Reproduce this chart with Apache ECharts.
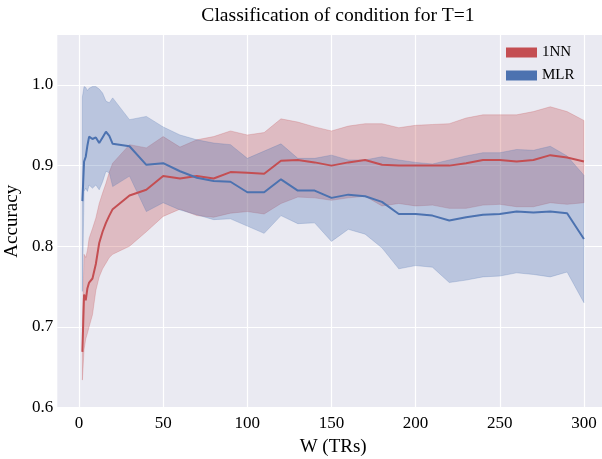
<!DOCTYPE html>
<html>
<head>
<meta charset="utf-8">
<script src="https://cdn.jsdelivr.net/npm/echarts@6/dist/echarts.min.js"></script>
<style>
html,body{margin:0;padding:0;background:#fff;}
#chart{width:602px;height:459px;}
</style>
</head>
<body>
<div id="chart"></div>
<script>
// Window sizes W (TRs)
const W = [2,3,4,5,6,8,10,12,14,16,18,20,30,40,50,60,70,80,90,100,110,120,130,140,150,160,170,180,190,200,210,220,230,240,250,260,270,280,290,300];

// 1NN: mean accuracy and band bounds
const nnMean = [0.669,0.740,0.733,0.748,0.755,0.760,0.778,0.804,0.818,0.829,0.838,0.846,0.863,0.870,0.887,0.884,0.887,0.884,0.892,0.891,0.890,0.906,0.907,0.904,0.900,0.904,0.907,0.901,0.900,0.900,0.900,0.900,0.903,0.907,0.907,0.905,0.907,0.913,0.910,0.905];
const nnLow  = [0.634,0.672,0.685,0.692,0.700,0.715,0.745,0.762,0.772,0.779,0.786,0.790,0.800,0.818,0.837,0.846,0.838,0.836,0.841,0.843,0.840,0.853,0.861,0.860,0.857,0.860,0.862,0.850,0.853,0.850,0.851,0.847,0.847,0.851,0.852,0.849,0.849,0.854,0.852,0.854];
const nnHigh = [0.705,0.790,0.786,0.795,0.810,0.822,0.835,0.853,0.866,0.878,0.892,0.903,0.926,0.922,0.936,0.923,0.932,0.936,0.943,0.938,0.941,0.958,0.954,0.948,0.943,0.949,0.952,0.952,0.947,0.950,0.951,0.952,0.959,0.963,0.963,0.963,0.967,0.973,0.967,0.956];

// MLR: mean accuracy and band bounds
const mlrMean = [0.856,0.905,0.911,0.925,0.936,0.933,0.935,0.928,0.935,0.942,0.937,0.927,0.924,0.901,0.903,0.893,0.885,0.881,0.880,0.867,0.867,0.883,0.869,0.869,0.860,0.864,0.862,0.855,0.840,0.840,0.838,0.832,0.836,0.839,0.840,0.843,0.842,0.843,0.841,0.809];
const mlrLow  = [0.744,0.868,0.872,0.868,0.876,0.872,0.876,0.870,0.880,0.893,0.891,0.874,0.887,0.843,0.854,0.845,0.839,0.833,0.834,0.825,0.816,0.838,0.828,0.829,0.806,0.821,0.815,0.798,0.772,0.776,0.774,0.755,0.758,0.762,0.763,0.767,0.765,0.762,0.768,0.730];
const mlrHigh = [0.985,0.998,0.997,0.993,0.996,0.998,0.998,0.995,0.990,0.980,0.978,0.984,0.957,0.961,0.948,0.938,0.932,0.928,0.926,0.909,0.918,0.927,0.909,0.909,0.913,0.907,0.907,0.911,0.907,0.904,0.902,0.907,0.912,0.916,0.916,0.920,0.919,0.924,0.912,0.888];

const xTicks = [0,50,100,150,200,250,300];
const yTicks = [0.6,0.7,0.8,0.9,1.0];

const RED = '#c44e52';
const BLUE = '#4c72b0';
const RED_BAND = 'rgba(196,78,82,0.3)';
const BLUE_BAND = 'rgba(76,114,176,0.3)';
const FONT = '"Liberation Serif", "Times New Roman", serif';

const pairs = (ys) => W.map((w, i) => [w, ys[i]]);

// A band drawn as one polygon (upper edge forward, lower edge back), all points via the axis scales
function bandSeries(lo, hi, col) {
  return {
    type: 'custom', silent: true, z: 1,
    data: W.map((w, i) => [w, lo[i], hi[i]]),
    encode: { x: 0, y: [1, 2] },
    renderItem: function (params, api) {
      if (params.dataIndex !== 0) return null;
      const pts = [];
      for (let i = 0; i < W.length; i++) pts.push(api.coord([W[i], hi[i]]));
      for (let i = W.length - 1; i >= 0; i--) pts.push(api.coord([W[i], lo[i]]));
      return {
        type: 'polygon',
        shape: { points: pts },
        style: { fill: col, stroke: col, lineWidth: 0.8 }
      };
    }
  };
}

const chart = echarts.init(document.getElementById('chart'), null, { renderer: 'canvas' });
chart.setOption({
  animation: false,
  backgroundColor: '#ffffff',
  title: {
    text: 'Classification of condition for T=1',
    left: 333, top: 1, textAlign: 'center',
    textStyle: { fontFamily: FONT, fontSize: 19.6, fontWeight: 'normal', color: '#000' }
  },
  grid: {
    left: 57.3, right: -7, top: 35, bottom: 51.5,
    outerBoundsMode: 'none', containLabel: false,
    show: true, backgroundColor: '#eaeaf2', borderWidth: 0
  },
  legend: {
    orient: 'vertical', left: 506, top: 45, padding: 0,
    itemWidth: 31, itemHeight: 10, itemGap: 8,
    textStyle: { fontFamily: FONT, fontSize: 15, color: '#000' },
    data: [{ name: '1NN', icon: 'rect' }, { name: 'MLR', icon: 'rect' }]
  },
  xAxis: {
    type: 'value', min: -12.9, max: 314.9,
    axisLine: { show: false }, axisTick: { show: false, customValues: xTicks },
    axisLabel: { customValues: xTicks, fontFamily: FONT, fontSize: 17, color: '#000', margin: 8 },
    splitLine: { show: true, lineStyle: { color: '#ffffff', width: 1.2 } },
    name: 'W (TRs)', nameLocation: 'middle', nameGap: 21,
    nameTextStyle: { fontFamily: FONT, fontSize: 19, color: '#000' }
  },
  yAxis: {
    type: 'value', min: 0.6, max: 1.062,
    axisLine: { show: false }, axisTick: { show: false, customValues: yTicks },
    axisLabel: { customValues: yTicks, fontFamily: FONT, fontSize: 17, color: '#000', margin: 4,
      formatter: (v) => v.toFixed(1) },
    splitLine: { show: true, lineStyle: { color: '#ffffff', width: 1.2 } },
    name: 'Accuracy', nameLocation: 'middle', nameGap: 31,
    nameTextStyle: { fontFamily: FONT, fontSize: 19, color: '#000' }
  },
  series: [
    bandSeries(nnLow, nnHigh, RED_BAND),
    bandSeries(mlrLow, mlrHigh, BLUE_BAND),
    { name: '1NN', type: 'line', data: pairs(nnMean), symbol: 'none',
      color: RED, lineStyle: { color: RED, width: 2 }, itemStyle: { color: RED }, z: 3 },
    { name: 'MLR', type: 'line', data: pairs(mlrMean), symbol: 'none',
      color: BLUE, lineStyle: { color: BLUE, width: 2 }, itemStyle: { color: BLUE }, z: 4 }
  ]
});
</script>
</body>
</html>
